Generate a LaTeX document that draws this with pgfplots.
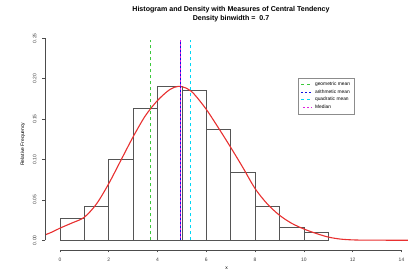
\documentclass[border=0pt]{standalone}
\usepackage{fontspec}
\setmainfont{Liberation Sans}
\usepackage{pgfplots}
\pgfplotsset{compat=1.18}
\definecolor{rgreen}{RGB}{60,200,60}
\definecolor{rblue}{RGB}{16,16,224}
\definecolor{qcyan}{RGB}{0,215,245}
\definecolor{rmag}{RGB}{224,32,224}
\definecolor{rred}{RGB}{232,48,48}
\definecolor{bargray}{RGB}{85,85,85}
\begin{document}
\begin{tikzpicture}
\path[use as bounding box] (-45bp,-27bp) rectangle (363bp,250bp);
\node[font=\bfseries\fontsize{7.1}{8}\selectfont] at (186bp,240bp) {Histogram and Density with Measures of Central Tendency};
\node[font=\bfseries\fontsize{7.1}{8}\selectfont] at (186bp,231.5bp) {Density binwidth =\ \ 0.7};
\begin{axis}[
  anchor=south west,
  scale only axis, width=363.1bp, height=211.7bp,
  xmin=-0.61, xmax=14.27, ymin=-0.012, ymax=0.25,
  axis line style={draw=none},
  clip=false,
  tick pos=left, tick align=outside,
  major tick length=2.5bp,
  tick style={black!70, line width=0.5pt},
  xtick={0,2,...,14},
  ytick={0,0.05,0.1,0.15,0.2,0.25},
  ticklabel style={font=\fontsize{5}{6}\selectfont, text=black!75},
  /pgf/number format/assume math mode=true,
  yticklabel style={/pgf/number format/.cd, fixed, fixed zerofill, precision=2, /tikz/.cd, rotate=90, anchor=south, yshift=2.5bp},
  xticklabel style={yshift=-2bp},
  xlabel={x}, xlabel style={font=\fontsize{5}{6}\selectfont, yshift=2bp},
  ylabel={Relative Frequency}, ylabel style={font=\fontsize{5}{6}\selectfont, yshift=1bp},
  legend cell align=left,
  legend style={at={(0.697,0.8125)}, anchor=north west, draw=black!45, line width=0.4pt,
    font=\fontsize{4.9}{5.6}\selectfont, inner xsep=2.5bp, inner ysep=2bp, row sep=-1.5bp},
  legend image code/.code={\draw[#1] (0bp,0bp) -- (11bp,0bp);},
]
\addplot[ybar interval, draw=bargray, fill=white, line width=0.7pt, forget plot] coordinates {
(0,0.0269) (1,0.0420) (2,0.0999) (3,0.1630) (4,0.1900) (5,0.1860) (6,0.1370) (7,0.0845) (8,0.0425) (9,0.0157) (10,0.0095) (11,0.0095)};
\addplot[rred, line width=1.1pt, smooth, tension=0.5, forget plot] coordinates {
(-0.6,0.0068) (-0.3,0.0105) (0,0.0150) (0.5,0.0215) (1,0.0285) (1.5,0.0450) (2,0.0700) (2.5,0.0990) (3,0.1280) (3.5,0.1540) (4,0.1730) (4.5,0.1865) (4.85,0.1905) (5.2,0.1880) (5.5,0.1810) (6,0.1620) (6.5,0.1390) (7,0.1150) (7.5,0.0900) (8,0.0640) (8.5,0.0450) (9,0.0310) (9.5,0.0210) (10,0.0140) (10.5,0.0085) (11,0.0040) (11.5,0.0015) (12,0.0005) (12.5,0.0002) (13,0.0002) (13.5,0.0001) (14,0.0001) (14.27,0.0001)};
\addplot[draw=rgreen, dash pattern=on 3bp off 3bp, line width=0.6pt] coordinates {(3.69,0) (3.69,0.2475)};
\addlegendentry{geometric mean}
\addplot[draw=rblue, dash pattern=on 2bp off 2bp, line width=1.3pt] coordinates {(4.93,0) (4.93,0.2475)};
\addlegendentry{arithmetic mean}
\addplot[draw=qcyan, dash pattern=on 3bp off 3bp, line width=0.9pt] coordinates {(5.37,0) (5.37,0.2475)};
\addlegendentry{quadratic mean}
\addplot[draw=rmag, dash pattern=on 2bp off 2bp, dash phase=2bp, line width=0.8pt] coordinates {(4.95,0) (4.95,0.2475)};
\addlegendentry{Median}
\draw[black!70, line width=0.5pt] (axis cs:0,-0.012) -- (axis cs:14,-0.012);
\draw[black!70, line width=0.5pt] (axis cs:-0.61,0) -- (axis cs:-0.61,0.25);
\end{axis}
\end{tikzpicture}
\end{document}
